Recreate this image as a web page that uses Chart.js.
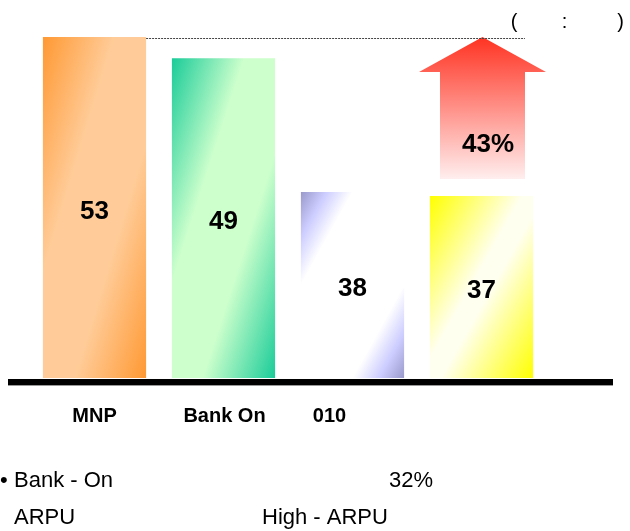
<!DOCTYPE html>
<html lang="ko">
<head>
<meta charset="utf-8">
<title>Bank On ARPU</title>
<script src="https://cdn.jsdelivr.net/npm/chart.js@4.4.1/dist/chart.umd.min.js"></script>
<style>
  html, body { margin: 0; padding: 0; background: #fff; }
  #grafico { display: block; }
</style>
</head>
<body>
<canvas id="grafico" width="630" height="531"></canvas>
<script>
const categories = ["MNP", "Bank On", "010", ""];
const barHeights = [53, 49.7, 28.9, 28.3];
const valueLabels = ["53", "49", "38", "37"];
const growthLabel = "43%";
const unitLabel = "(        :         )";
const noteLine1 = ["Bank - On", "32%"];
const noteLine2 = ["ARPU", "High - ARPU"];

const FONT = '"Liberation Sans", Arial, sans-serif';

const barFills = [
  [[0, "#ff9933"], [0.35, "#ffcc99"], [0.65, "#ffcc99"], [1, "#ff9933"]],
  [[0, "#1acc99"], [0.35, "#ccffcc"], [0.65, "#ccffcc"], [1, "#1acc99"]],
  [[0, "#9999cc"], [0.12, "#ccccff"], [0.25, "#ffffff"], [0.75, "#ffffff"], [0.88, "#ccccff"], [1, "#9999cc"]],
  [[0, "#ffff00"], [0.45, "#fffff0"], [0.55, "#fffff0"], [1, "#ffff00"]]
];
const labelNudge = [0, 1, -23, 0];

function diagonalGradient(ctx, left, top, w, h, stops) {
  const d = w * w + h * h;
  const g = ctx.createLinearGradient(left, top, left + 2 * w * h * h / d, top + 2 * w * w * h / d);
  stops.forEach(([pos, color]) => g.addColorStop(pos, color));
  return g;
}

function barFill(context) {
  const chart = context.chart;
  const xs = chart.scales.x;
  const ys = chart.scales.y;
  if (!chart.chartArea || !xs || !ys || context.type !== "data") {
    return "#cccccc";
  }
  const i = context.dataIndex;
  const w = (xs.getPixelForValue(1) - xs.getPixelForValue(0)) * 0.8;
  const left = xs.getPixelForValue(i) - w / 2;
  const top = ys.getPixelForValue(barHeights[i]);
  const h = ys.getPixelForValue(0) - top;
  return diagonalGradient(chart.ctx, left, top, w, h, barFills[i]);
}

const decorations = {
  id: "decorations",
  afterDatasetsDraw(chart) {
    const ctx = chart.ctx;
    const ys = chart.scales.y;
    const bars = chart.getDatasetMeta(0).data;
    const base = ys.getPixelForValue(0);
    const peak = ys.getPixelForValue(Math.max(...barHeights));

    ctx.save();

    // growth arrow above the last bar
    const last = bars[bars.length - 1];
    const cx = last.x + 1;
    const shaftBottom = last.y - 17;
    const headBase = peak + 35;
    const arrowFill = ctx.createLinearGradient(0, peak, 0, shaftBottom);
    arrowFill.addColorStop(0, "#ff3322");
    arrowFill.addColorStop(1, "#ffeeee");
    ctx.fillStyle = arrowFill;
    ctx.beginPath();
    ctx.moveTo(cx, peak);
    ctx.lineTo(cx + 63.5, headBase);
    ctx.lineTo(cx + 42.5, headBase);
    ctx.lineTo(cx + 42.5, shaftBottom);
    ctx.lineTo(cx - 42.5, shaftBottom);
    ctx.lineTo(cx - 42.5, headBase);
    ctx.lineTo(cx - 63.5, headBase);
    ctx.closePath();
    ctx.fill();

    // dotted reference line from the top of the first bar
    const first = bars[0];
    ctx.strokeStyle = "#444444";
    ctx.lineWidth = 1;
    ctx.setLineDash([2, 1]);
    ctx.beginPath();
    ctx.moveTo(first.x + first.width / 2, Math.round(peak) + 1.5);
    ctx.lineTo(cx + 42.5, Math.round(peak) + 1.5);
    ctx.stroke();
    ctx.setLineDash([]);

    // baseline
    ctx.fillStyle = "#000000";
    ctx.fillRect(8, base + 1, 605, 6);
    ctx.fillStyle = "#999999";
    ctx.fillRect(8, base + 7, 605, 1);

    // values inside the bars
    ctx.fillStyle = "#000000";
    ctx.textAlign = "center";
    ctx.textBaseline = "middle";
    ctx.font = "bold 26px " + FONT;
    bars.forEach((bar, i) => {
      ctx.fillText(valueLabels[i], bar.x, (bar.y + bar.base) / 2 + 4);
    });
    ctx.fillText(growthLabel, cx + 5.5, 145);

    // category labels
    ctx.textBaseline = "alphabetic";
    ctx.font = "bold 20px " + FONT;
    bars.forEach((bar, i) => {
      ctx.fillText(categories[i], bar.x + labelNudge[i], 422);
    });

    // unit note
    ctx.font = "20px " + FONT;
    ctx.textAlign = "right";
    ctx.fillText(unitLabel, 624, 28);

    // notes under the chart
    ctx.textAlign = "left";
    ctx.font = "22px " + FONT;
    ctx.fillText("\u2022", 0, 487);
    ctx.fillText(noteLine1[0], 14, 487);
    ctx.fillText(noteLine1[1], 389, 487);
    ctx.fillText(noteLine2[0], 14, 524);
    ctx.fillText(noteLine2[1], 262, 524);

    ctx.restore();
  }
};

document.addEventListener("DOMContentLoaded", () => {
  const canvas = document.getElementById("grafico");
  new Chart(canvas.getContext("2d"), {
    type: "bar",
    data: {
      labels: categories,
      datasets: [{
        data: barHeights,
        backgroundColor: barFill,
        borderWidth: 0,
        barPercentage: 0.8,
        categoryPercentage: 1
      }]
    },
    options: {
      responsive: false,
      animation: false,
      devicePixelRatio: 1,
      layout: {
        padding: { left: 30, right: 84, top: 37, bottom: 153 }
      },
      plugins: {
        legend: { display: false },
        tooltip: { enabled: false }
      },
      scales: {
        x: { display: false },
        y: { display: false, min: 0, max: 53 }
      }
    },
    plugins: [decorations]
  });
});
</script>
</body>
</html>
